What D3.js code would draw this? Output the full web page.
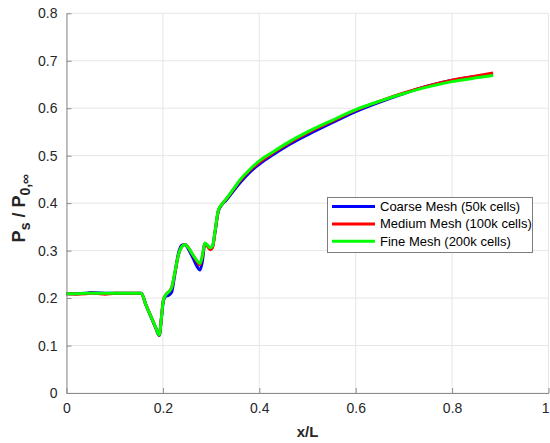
<!DOCTYPE html>
<html>
<head>
<meta charset="utf-8">
<script src="https://cdn.jsdelivr.net/npm/d3@7"></script>
<style>
  html, body { margin: 0; padding: 0; background: #fff; }
  svg { display: block; font-family: "Liberation Sans", Arial, sans-serif; }
</style>
</head>
<body>
<svg id="chart" width="550" height="443"></svg>
<script>
// Streamwise position along the wall (x/L)
const xPos = [0, 0.02, 0.04, 0.05, 0.06, 0.08, 0.10, 0.12, 0.14, 0.155, 0.165, 0.175, 0.185, 0.1925,
  0.197, 0.201, 0.206, 0.212, 0.218, 0.225, 0.232, 0.239, 0.246, 0.253, 0.263, 0.270, 0.277,
  0.282, 0.287, 0.292, 0.298, 0.303, 0.308, 0.315, 0.322, 0.332, 0.345, 0.36, 0.38, 0.40,
  0.43, 0.46, 0.50, 0.55, 0.60, 0.65, 0.70, 0.75, 0.80, 0.85, 0.885];

// Static pressure ratio Ps / P0,inf for each mesh
const coarse = [0.209, 0.209, 0.210, 0.212, 0.211, 0.210, 0.210, 0.210, 0.210, 0.210, 0.185, 0.161, 0.137, 0.121,
  0.158, 0.194, 0.204, 0.206, 0.212, 0.252, 0.293, 0.311, 0.313, 0.303, 0.283, 0.268, 0.259,
  0.278, 0.314, 0.311, 0.305, 0.309, 0.338, 0.383, 0.396, 0.407, 0.424, 0.443, 0.465, 0.482,
  0.503, 0.522, 0.544, 0.569, 0.593, 0.613, 0.631, 0.647, 0.659, 0.667, 0.672];
const medium = [0.209, 0.208, 0.209, 0.210, 0.210, 0.208, 0.210, 0.210, 0.210, 0.210, 0.185, 0.162, 0.138, 0.122,
  0.160, 0.196, 0.207, 0.213, 0.221, 0.254, 0.290, 0.308, 0.313, 0.306, 0.289, 0.278, 0.270,
  0.288, 0.315, 0.310, 0.302, 0.306, 0.338, 0.384, 0.397, 0.409, 0.427, 0.447, 0.469, 0.486,
  0.507, 0.526, 0.548, 0.572, 0.596, 0.615, 0.632, 0.647, 0.659, 0.668, 0.674];
const fine = [0.209, 0.209, 0.210, 0.210, 0.210, 0.210, 0.210, 0.210, 0.210, 0.210, 0.185, 0.162, 0.138, 0.122,
  0.160, 0.196, 0.207, 0.213, 0.222, 0.255, 0.290, 0.308, 0.313, 0.306, 0.290, 0.280, 0.273,
  0.290, 0.316, 0.312, 0.306, 0.310, 0.340, 0.385, 0.397, 0.410, 0.428, 0.449, 0.471, 0.489,
  0.509, 0.528, 0.550, 0.574, 0.597, 0.615, 0.631, 0.645, 0.656, 0.664, 0.669];

const seriesNames = ["Coarse Mesh (50k cells)", "Medium Mesh (100k cells)", "Fine Mesh (200k cells)"];
const seriesColors = ["#0000ff", "#ff0000", "#00ff00"];
const xTicks = [0, 0.2, 0.4, 0.6, 0.8, 1];
const yTicks = [0, 0.1, 0.2, 0.3, 0.4, 0.5, 0.6, 0.7, 0.8];

const svg = d3.select("#chart");
const margin = { left: 66.5, right: 1.5, top: 13.3, bottom: 50 };
const W = 550, H = 443;

const x = d3.scaleLinear().domain([0, 1]).range([margin.left, W - margin.right]);
const y = d3.scaleLinear().domain([0, 0.8]).range([H - margin.bottom, margin.top]);

// grid
const grid = svg.append("g");
grid.selectAll("line.gx").data(xTicks).join("line")
  .attr("x1", d => x(d)).attr("x2", d => x(d))
  .attr("y1", y(0)).attr("y2", y(0.8))
  .attr("stroke", "#e6e6e6").attr("stroke-width", 1);
grid.selectAll("line.gy").data(yTicks).join("line")
  .attr("x1", x(0)).attr("x2", x(1))
  .attr("y1", d => y(d)).attr("y2", d => y(d))
  .attr("stroke", "#e6e6e6").attr("stroke-width", 1);

// axes
const xAxis = d3.axisBottom(x).tickValues(xTicks).tickFormat(d3.format("~g")).tickSizeInner(-5).tickSizeOuter(0).tickPadding(10);
const yAxis = d3.axisLeft(y).tickValues(yTicks).tickFormat(d3.format("~g")).tickSizeInner(-5).tickSizeOuter(0).tickPadding(9);

const gx = svg.append("g").attr("transform", `translate(0,${y(0)})`).call(xAxis);
const gy = svg.append("g").attr("transform", `translate(${x(0)},0)`).call(yAxis);
[gx, gy].forEach(g => {
  g.select(".domain").attr("stroke", "#8c8c8c").attr("stroke-width", 1);
  g.selectAll(".tick line").attr("stroke", "#8c8c8c");
  g.selectAll(".tick text").attr("fill", "#262626").style("font-size", "14px")
    .style("font-family", "'Liberation Sans', Arial, sans-serif");
});
// the last x label sits against the right edge of the canvas
gx.selectAll(".tick text").filter(d => d === 1).attr("text-anchor", "end").attr("dx", "0.5");

// curves
const line = d3.line().x((d, i) => x(xPos[i])).y(d => y(d)).curve(d3.curveMonotoneX);
const allSeries = [coarse, medium, fine];
svg.append("g").selectAll("path").data(allSeries).join("path")
  .attr("d", d => line(d))
  .attr("fill", "none")
  .attr("stroke", (d, i) => seriesColors[i])
  .attr("stroke-width", 3)
  .attr("stroke-linejoin", "round");

// axis titles
svg.append("text").attr("x", x(0.5)).attr("y", 437)
  .attr("text-anchor", "middle").attr("font-weight", "bold").attr("font-size", 15)
  .attr("fill", "#262626").text("x/L");

const yl = svg.append("text").attr("transform", `translate(25,${y(0.4) + 5}) rotate(-90)`)
  .attr("text-anchor", "middle").attr("font-weight", "bold").attr("font-size", 18).attr("fill", "#262626");
yl.append("tspan").text("P");
yl.append("tspan").attr("font-size", 14).attr("dy", 5).text("s");
yl.append("tspan").attr("dy", -5).text(" / P");
yl.append("tspan").attr("font-size", 14).attr("dy", 5).text("0,\u221E");

// legend
const lg = svg.append("g");
lg.append("rect").attr("x", 327.5).attr("y", 197.5).attr("width", 205).attr("height", 55)
  .attr("fill", "#fff").attr("stroke", "#262626").attr("stroke-opacity", 0.6).attr("stroke-width", 1);
seriesNames.forEach((name, i) => {
  const ry = 206.5 + i * 17.4;
  lg.append("line").attr("x1", 332).attr("x2", 375).attr("y1", ry).attr("y2", ry)
    .attr("stroke", seriesColors[i]).attr("stroke-width", 3);
  lg.append("text").attr("x", 380).attr("y", ry + 4.5).attr("font-size", 13)
    .attr("fill", "#000").text(name);
});
</script>
</body>
</html>
